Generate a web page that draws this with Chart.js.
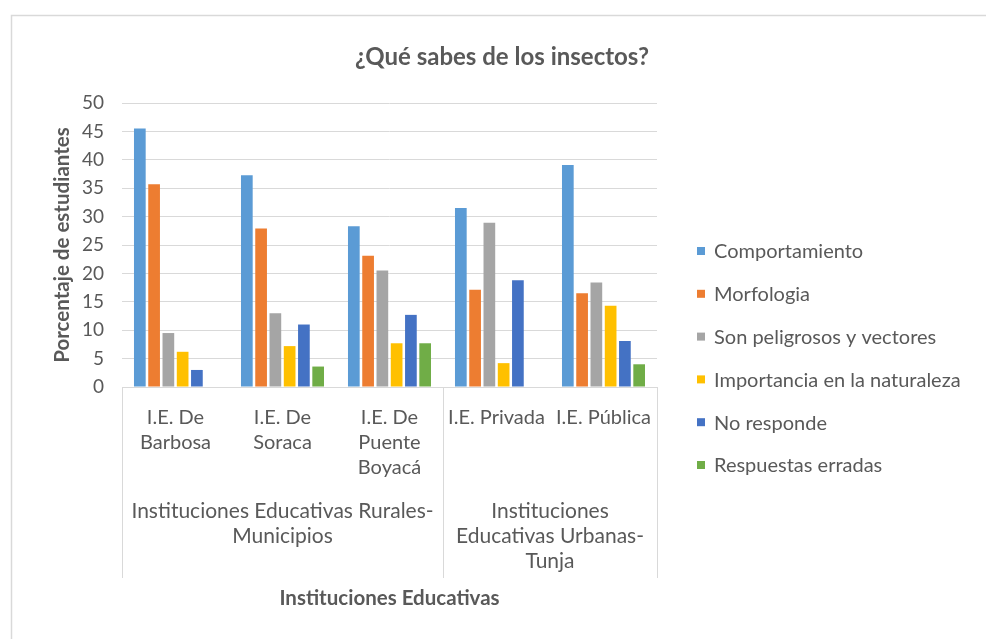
<!DOCTYPE html>
<html>
<head>
<meta charset="utf-8">
<script src="https://cdn.jsdelivr.net/npm/chart.js@4.4.1/dist/chart.umd.min.js"></script>
<style>
  html, body { margin: 0; padding: 0; background: #ffffff; }
  #wrap { width: 986px; height: 639px; position: relative; }
</style>
</head>
<body>
<div id="wrap"><canvas id="c" width="986" height="639"></canvas></div>
<script>
// Schools (first level of the category axis)
const institutions = [
  ['I.E. De', 'Barbosa'],
  ['I.E. De', 'Soraca'],
  ['I.E. De', 'Puente', 'Boyacá'],
  'I.E. Privada',
  'I.E. Pública'
];
// Second level of the category axis: label lines and the school indexes it spans
const groupLabels = [
  ['Instituciones Educativas Rurales-', 'Municipios'],
  ['Instituciones', 'Educativas Urbanas-', 'Tunja']
];
const groupStart = [0, 3];
const groupEnd = [2, 4];

const seriesNames = [
  'Comportamiento',
  'Morfologia',
  'Son peligrosos y vectores',
  'Importancia en la naturaleza',
  'No responde',
  'Respuestas erradas'
];
const seriesColors = ['#5B9BD5', '#ED7D31', '#A5A5A5', '#FFC000', '#4472C4', '#70AD47'];

// Percentage of students per answer type
const comportamiento = [45.5, 37.3, 28.3, 31.5, 39.1];
const morfologia     = [35.7, 27.9, 23.1, 17.1, 16.5];
const peligrosos     = [9.5, 13.0, 20.5, 28.9, 18.4];
const importancia    = [6.2, 7.2, 7.7, 4.2, 14.3];
const noResponde     = [3.0, 11.0, 12.7, 18.8, 8.1];
const erradas        = [null, 3.6, 7.7, null, 4.0];

const yMin = 0, yMax = 50, yStep = 5;

const chartTitle = '¿Qué sabes de los insectos?';
const yTitle = 'Porcentaje de estudiantes';
const xTitle = 'Instituciones Educativas';

const FONT = 'Lato, "Open Sans", sans-serif';
const TEXT = '#595959';
const LINE = '#d9d9d9';

const seriesValues = [comportamiento, morfologia, peligrosos, importancia, noResponde, erradas];

// Outer frame of the chart object
const framePlugin = {
  id: 'frame',
  beforeDraw(chart) {
    const ctx = chart.ctx;
    ctx.save();
    ctx.fillStyle = '#ffffff';
    ctx.fillRect(0, 0, chart.width, chart.height);
    ctx.strokeStyle = LINE;
    ctx.lineWidth = 1.5;
    ctx.strokeRect(11.5, 15.5, chart.width + 20, chart.height + 20);
    ctx.restore();
  }
};

// Chart title, the school-type group row, its separators and the legend
const decorPlugin = {
  id: 'decor',
  afterDraw(chart) {
    const ctx = chart.ctx;
    const x = chart.scales.x;
    const area = chart.chartArea;
    const half = (x.getPixelForValue(1) - x.getPixelForValue(0)) / 2;
    ctx.save();

    // title
    ctx.fillStyle = TEXT;
    ctx.font = 'bold 24px ' + FONT;
    ctx.textAlign = 'center';
    ctx.textBaseline = 'middle';
    ctx.fillText(chartTitle, 502, 57);

    // group separators
    ctx.strokeStyle = LINE;
    ctx.lineWidth = 1;
    const edges = new Set();
    groupStart.forEach((s, i) => {
      edges.add(Math.round(x.getPixelForValue(s) - half));
      edges.add(Math.round(x.getPixelForValue(groupEnd[i]) + half));
    });
    edges.forEach(px => {
      ctx.beginPath();
      ctx.moveTo(px + 0.5, area.bottom);
      ctx.lineTo(px + 0.5, 578);
      ctx.stroke();
    });

    // group labels
    ctx.fillStyle = TEXT;
    ctx.font = '21px ' + FONT;
    groupLabels.forEach((lines, i) => {
      const cx = (x.getPixelForValue(groupStart[i]) + x.getPixelForValue(groupEnd[i])) / 2;
      lines.forEach((t, k) => ctx.fillText(t, cx, 511 + k * 25));
    });

    // legend
    ctx.textAlign = 'left';
    ctx.font = '20px ' + FONT;
    chart.data.datasets.forEach((ds, i) => {
      const cy = 251 + i * 42.8;
      ctx.fillStyle = ds.backgroundColor;
      ctx.fillRect(697, cy - 4, 8, 8);
      ctx.fillStyle = TEXT;
      ctx.fillText(ds.label, 714, cy + 1);
    });
    ctx.restore();
  }
};

new Chart(document.getElementById('c'), {
  type: 'bar',
  data: {
    labels: institutions,
    datasets: seriesNames.map((name, i) => ({
      label: name,
      data: seriesValues[i],
      backgroundColor: seriesColors[i],
      borderWidth: 0,
      categoryPercentage: 0.8,
      barPercentage: 0.82
    }))
  },
  options: {
    responsive: false,
    animation: false,
    layout: { padding: { left: 0, right: 329, top: 103, bottom: 0 } },
    plugins: {
      legend: { display: false },
      title: { display: false },
      tooltip: { enabled: false }
    },
    scales: {
      x: {
        grid: { display: false, drawTicks: false },
        border: { display: true, color: LINE, width: 1 },
        ticks: {
          color: TEXT,
          font: { family: FONT, size: 20, lineHeight: 1.25 },
          padding: 18.5,
          maxRotation: 0,
          autoSkip: false
        },
        title: {
          display: true,
          text: xTitle,
          color: TEXT,
          font: { family: FONT, size: 20.5, weight: 'bold', lineHeight: 1.2 },
          padding: { top: 0, bottom: 28.7 }
        },
        afterFit(scale) { scale.height = 252; }
      },
      y: {
        min: yMin,
        max: yMax,
        grid: { color: LINE, lineWidth: 1, drawTicks: false },
        border: { display: false },
        ticks: {
          stepSize: yStep,
          color: TEXT,
          font: { family: FONT, size: 19 },
          padding: 18
        },
        title: {
          display: true,
          text: yTitle,
          color: TEXT,
          font: { family: FONT, size: 20.5, weight: 'bold', lineHeight: 1.2 },
          padding: { top: 49.7, bottom: 0 }
        },
        afterFit(scale) { scale.width = 122; }
      }
    }
  },
  plugins: [framePlugin, decorPlugin]
});
</script>
</body>
</html>
